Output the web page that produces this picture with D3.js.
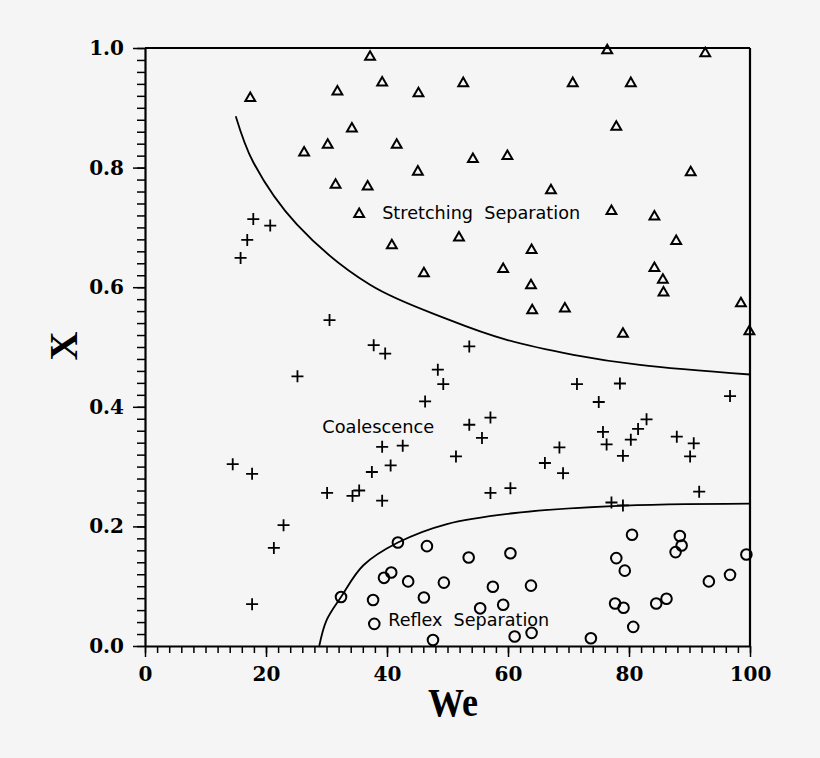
<!DOCTYPE html>
<html>
<head>
<meta charset="utf-8">
<script src="https://cdn.jsdelivr.net/npm/d3@7"></script>
<style>
  body { margin: 0; background: #f5f5f5; }
  svg { display: block; }
  text { white-space: pre; }
</style>
</head>
<body>
<svg id="canvas"></svg>
<script>
const width = 820;
const height = 758;

// We, X
const stretchWe = [37.2, 39.2, 31.8, 45.2, 17.4, 34.2, 30.2, 41.6, 26.3, 45.1, 31.5, 36.8, 35.4, 40.8, 46.1,
  76.4, 92.6, 52.6, 70.7, 80.3, 77.9, 54.2, 59.9, 90.2, 67.1, 77.1, 84.2, 51.9, 87.8, 63.9,
  59.2, 84.2, 85.6, 63.8, 85.7, 98.5, 64.0, 69.4, 99.9, 79.0];
const stretchX = [0.987, 0.944, 0.929, 0.926, 0.918, 0.867, 0.840, 0.840, 0.827, 0.795, 0.773, 0.770, 0.724, 0.672, 0.625,
  0.998, 0.993, 0.943, 0.943, 0.943, 0.870, 0.816, 0.821, 0.794, 0.764, 0.729, 0.720, 0.685, 0.679, 0.664,
  0.632, 0.634, 0.614, 0.605, 0.593, 0.575, 0.563, 0.566, 0.528, 0.524];

const coalWe = [17.9, 20.7, 16.9, 15.8, 30.5, 37.8, 39.7, 48.4, 49.3, 25.2, 46.3, 39.2, 42.6, 51.4, 14.5,
  17.7, 37.5, 40.6, 30.1, 34.3, 35.4, 39.2, 22.9, 21.3, 17.7, 53.6, 71.4, 78.5, 75.0, 96.7,
  53.6, 57.1, 55.7, 82.9, 81.5, 75.7, 76.3, 80.3, 87.9, 90.7, 79.0, 90.1, 68.5, 66.1, 69.1,
  57.1, 60.4, 91.6, 77.1, 79.0];
const coalX = [0.714, 0.703, 0.679, 0.649, 0.545, 0.503, 0.489, 0.462, 0.438, 0.451, 0.409, 0.333, 0.335, 0.317, 0.304,
  0.288, 0.291, 0.302, 0.256, 0.251, 0.260, 0.243, 0.202, 0.164, 0.070, 0.501, 0.438, 0.439, 0.408, 0.418,
  0.370, 0.382, 0.348, 0.379, 0.363, 0.358, 0.337, 0.345, 0.350, 0.339, 0.318, 0.317, 0.332, 0.306, 0.289,
  0.256, 0.264, 0.258, 0.240, 0.235];

const reflexWe = [41.8, 46.6, 53.5, 60.4, 40.7, 39.5, 43.5, 49.4, 57.5, 63.8, 32.4, 37.7, 46.1, 59.2, 55.4,
  37.9, 47.6, 61.1, 63.9, 73.7, 80.5, 77.9, 79.3, 88.4, 88.7, 87.7, 99.4, 96.7, 93.2, 77.7,
  79.1, 84.5, 86.2, 80.7];
const reflexX = [0.173, 0.167, 0.148, 0.155, 0.123, 0.114, 0.108, 0.106, 0.099, 0.101, 0.082, 0.077, 0.081, 0.069, 0.063,
  0.037, 0.010, 0.016, 0.022, 0.013, 0.186, 0.147, 0.126, 0.184, 0.168, 0.157, 0.153, 0.119, 0.108, 0.071,
  0.064, 0.071, 0.079, 0.032];

// boundary curves
const upperWe = [15.0, 17.9, 25.1, 37.2, 50.4, 59.8, 70.8, 81.8, 100];
const upperX = [0.886, 0.809, 0.705, 0.604, 0.545, 0.512, 0.487, 0.470, 0.454];
const lowerWe = [28.8, 30.0, 32.4, 36.1, 41.8, 49.9, 60.8, 77.3, 100];
const lowerX = [0.0, 0.043, 0.082, 0.135, 0.173, 0.204, 0.222, 0.234, 0.238];

const xMajor = [0, 20, 40, 60, 80, 100];
const yMajor = [0, 0.2, 0.4, 0.6, 0.8, 1.0];

const svg = d3.select('#canvas').attr('width', width).attr('height', height);

const x = d3.scaleLinear().domain([0, 100]).range([145, 750]);
const y = d3.scaleLinear().domain([0, 1]).range([646, 48]);

const zip = (a, b) => a.map((v, i) => [v, b[i]]);

// frame top and right
svg.append('line')
  .attr('x1', x(0)).attr('x2', x(100))
  .attr('y1', y(1)).attr('y2', y(1))
  .attr('stroke', '#000').attr('stroke-width', 1.8);
svg.append('line')
  .attr('x1', x(100)).attr('x2', x(100))
  .attr('y1', y(1)).attr('y2', y(0))
  .attr('stroke', '#000').attr('stroke-width', 2.2);

// minor ticks
svg.append('g')
  .attr('transform', `translate(0, ${y(0)})`)
  .call(d3.axisBottom(x).tickValues(d3.range(0, 101, 2)).tickSize(7).tickFormat(''))
  .call((g) => g.select('.domain').remove());
svg.append('g')
  .attr('transform', `translate(${x(0)}, 0)`)
  .call(d3.axisLeft(y).tickValues(d3.range(0, 51).map((i) => i / 50)).tickSize(8).tickFormat(''))
  .call((g) => g.select('.domain').remove());

// major ticks with labels
const xAxis = svg.append('g')
  .attr('transform', `translate(0, ${y(0)})`)
  .call(d3.axisBottom(x).tickValues(xMajor).tickSize(11).tickSizeOuter(0).tickPadding(10).tickFormat(d3.format('d')));
const yAxis = svg.append('g')
  .attr('transform', `translate(${x(0)}, 0)`)
  .call(d3.axisLeft(y).tickValues(yMajor).tickSize(12).tickSizeOuter(0).tickPadding(9).tickFormat(d3.format('.1f')));

[xAxis, yAxis].forEach((g) => {
  g.select('.domain').attr('stroke-width', 2.2);
  g.selectAll('.tick text')
    .attr('font-family', 'DejaVu Serif')
    .attr('font-weight', 'bold')
    .attr('font-size', 20)
    .attr('fill', '#000');
});
svg.selectAll('.tick line').attr('stroke', '#000').attr('stroke-width', 1.5);

// boundary curves
const line = d3.line().x((d) => x(d[0])).y((d) => y(d[1])).curve(d3.curveCatmullRom.alpha(0.5));
svg.append('path')
  .datum(zip(upperWe, upperX))
  .attr('d', line)
  .attr('fill', 'none').attr('stroke', '#000').attr('stroke-width', 1.8);
svg.append('path')
  .datum(zip(lowerWe, lowerX))
  .attr('d', line)
  .attr('fill', 'none').attr('stroke', '#000').attr('stroke-width', 1.8);

// stretching separation: triangles
svg.append('g').selectAll('path')
  .data(zip(stretchWe, stretchX))
  .enter()
  .append('path')
  .attr('d', d3.symbol(d3.symbolTriangle, 42))
  .attr('transform', (d) => `translate(${x(d[0])}, ${y(d[1]) + 1.2})`)
  .attr('fill', 'none').attr('stroke', '#000').attr('stroke-width', 2);

// coalescence: plus signs
svg.append('g').selectAll('path')
  .data(zip(coalWe, coalX))
  .enter()
  .append('path')
  .attr('d', 'M-6,0H6M0,-6V6')
  .attr('transform', (d) => `translate(${x(d[0])}, ${y(d[1])})`)
  .attr('fill', 'none').attr('stroke', '#000').attr('stroke-width', 1.8);

// reflex separation: circles
svg.append('g').selectAll('circle')
  .data(zip(reflexWe, reflexX))
  .enter()
  .append('circle')
  .attr('cx', (d) => x(d[0]))
  .attr('cy', (d) => y(d[1]))
  .attr('r', 5.3)
  .attr('fill', 'none').attr('stroke', '#000').attr('stroke-width', 2);

// region labels
const regionLabels = [
  { text: 'Stretching  Separation', we: 39.2, xv: 0.714, len: 198 },
  { text: 'Coalescence', we: 29.3, xv: 0.357, len: 112 },
  { text: 'Reflex  Separation', we: 40.2, xv: 0.034, len: 161 },
];
svg.append('g').selectAll('text')
  .data(regionLabels)
  .enter()
  .append('text')
  .attr('x', (d) => x(d.we))
  .attr('y', (d) => y(d.xv))
  .attr('textLength', (d) => d.len)
  .attr('lengthAdjust', 'spacingAndGlyphs')
  .attr('font-family', 'DejaVu Sans')
  .attr('font-size', 18)
  .attr('fill', '#000')
  .text((d) => d.text);

// axis titles
svg.append('text')
  .attr('x', 453).attr('y', 716)
  .attr('text-anchor', 'middle')
  .attr('textLength', 50).attr('lengthAdjust', 'spacingAndGlyphs')
  .attr('font-family', 'Liberation Serif').attr('font-weight', 'bold').attr('font-size', 40)
  .text('We');
svg.append('text')
  .attr('transform', 'translate(77, 346) rotate(-90)')
  .attr('text-anchor', 'middle')
  .attr('font-family', 'Liberation Serif').attr('font-weight', 'bold').attr('font-size', 40)
  .text('X');
</script>
</body>
</html>
